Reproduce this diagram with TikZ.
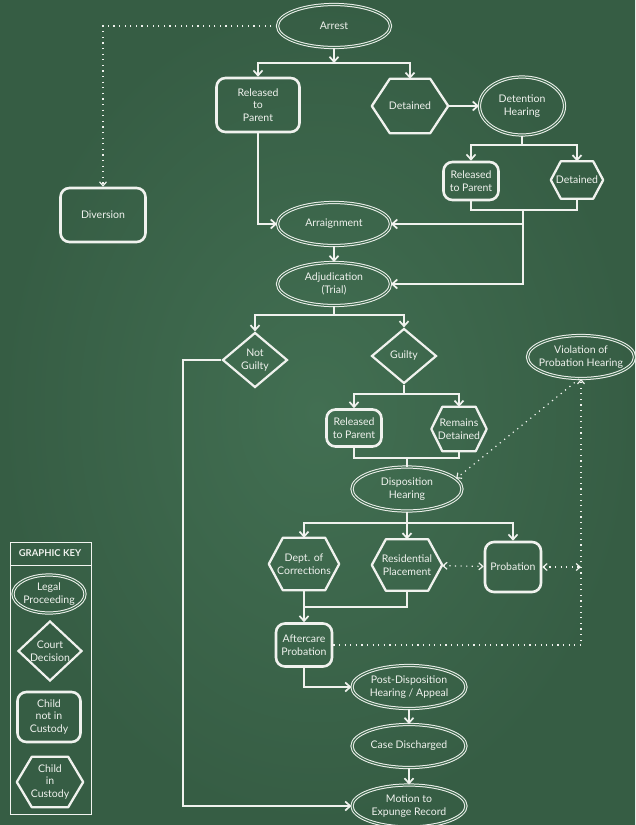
\documentclass[tikz,border=0pt]{standalone}
\usepackage{fontspec}
\setmainfont{Lato}
\usetikzlibrary{shapes.geometric}
\usetikzlibrary{arrows.meta}
\definecolor{board}{RGB}{63,107,79}
\definecolor{boardlight}{RGB}{66,111,82}
\definecolor{boarddark}{RGB}{54,93,68}
\definecolor{chalk}{RGB}{240,242,238}
\tikzset{>={Straight Barb[length=5pt, width=9pt]}}
\tikzset{wire/.style={chalk, line width=1.7pt}}
\tikzset{dotline/.style={chalk, line width=1.2pt, dash pattern=on 1.2pt off 4.4pt,
  >={Straight Barb[length=4pt, width=7pt]}}}
\tikzset{proc/.style={ellipse, draw=chalk, line width=1pt, double=board, double distance=1.2pt,
  inner sep=0pt, inner xsep=-10pt, minimum width=113pt, minimum height=43pt, align=center, text=chalk}}
\tikzset{cond/.style={diamond, draw=chalk, line width=2.2pt, inner sep=0pt,
  minimum width=65pt, minimum height=55pt, align=center, text=chalk}}
\tikzset{free/.style={rectangle, rounded corners=9pt, draw=chalk, line width=2.6pt, inner sep=0pt,
  minimum width=83pt, minimum height=54pt, align=center, text=chalk}}
\tikzset{held/.style={rectangle, inner sep=0pt, minimum width=76pt, minimum height=54pt,
  align=center, text=chalk}}
\newcommand*{\hexa}[2][14pt]{\draw[chalk, line width=2.3pt, line join=round](#2.west)
  --([xshift=#1]#2.north west)--([xshift=-#1]#2.north east)--(#2.east)
  --([xshift=-#1]#2.south east)--([xshift=#1]#2.south west)--cycle;}

\begin{document}
\begin{tikzpicture}[x=1pt, y=-1pt, font=\fontsize{10.5}{12.5}\selectfont]
    \shade[inner color=boardlight, outer color=boarddark](0, 0)rectangle(635, 825);
    \useasboundingbox(0, 0)rectangle(635, 825);
    % stages
    \node[proc](arrest)at(334, 26){Arrest};
    \node[free](rel1)at(258, 105){Released\\to\\Parent};
    \node[held](det1)at(410, 106){Detained};
    \node[proc, minimum width=85pt, minimum height=58pt](dh)at(522, 106){Detention\\Hearing};
    \node[free, minimum width=55pt, minimum height=38pt](rel2)at(471, 181){Released\\to Parent};
    \node[held, minimum width=52pt, minimum height=37pt](det2)at(577, 180){Detained};
    \node[free, minimum width=85pt](div)at(103, 215){Diversion};
    \node[proc](arr)at(334, 224){Arraignment};
    \node[proc](adj)at(334, 284){Adjudication\\(Trial)};
    \node[cond](ng)at(255, 360){Not\\Guilty};
    \node[cond](gu)at(404, 356){Guilty};
    \node[proc, minimum width=107pt](viol)at(581, 357){Violation of\\Probation Hearing};
    \node[free, minimum width=55pt, minimum height=37pt](rel3)at(354, 428){Released\\to Parent};
    \node[held, minimum width=55pt, minimum height=44pt](rem)at(459, 429){Remains\\Detained};
    \node[proc, minimum width=110pt, minimum height=44pt](disp)at(407, 489){Disposition\\Hearing};
    \node[held, minimum width=70pt, minimum height=52pt](doc)at(304, 564){Dept. of\\Corrections};
    \node[held, minimum width=70pt, minimum height=51pt](res)at(407, 565){Residential\\Placement};
    \node[free, minimum width=56pt, minimum height=50pt](prob)at(513, 567){Probation};
    \node[free, minimum width=56pt, minimum height=43pt](care)at(304, 645){Aftercare\\Probation};
    \node[proc, minimum width=114pt](post)at(409, 687){Post-Disposition\\Hearing / Appeal};
    \node[proc, minimum width=114pt](dis)at(409, 746){Case Discharged};
    \node[proc, minimum width=114pt, minimum height=42pt](mot)at(409, 806){Motion to\\Expunge Record};
    \hexa[18pt]{det1}
    \hexa[10pt]{det2}
    \hexa[11pt]{rem}
    \hexa[14pt]{doc}
    \hexa[14pt]{res}
    % junctions
    \coordinate(a1)at(334, 63);
    \coordinate(a2)at(522, 145);
    \coordinate(a3)at(523, 210);
    \coordinate(a4)at(334, 315);
    \coordinate(a5)at(183, 360);
    \coordinate(a6)at(404, 394);
    \coordinate(a7)at(407, 458);
    \coordinate(a8)at(407, 523);
    \coordinate(a9)at(304, 607);
    % flow
    \draw[wire, ->](arrest)--(a1);
    \draw[wire, ->](a1)-|(rel1);
    \draw[wire, ->](a1)-|(det1);
    \draw[wire, ->](det1)--(dh);
    \draw[wire](dh)--(a2);
    \draw[wire, ->](a2)-|(rel2);
    \draw[wire, ->](a2)-|(det2);
    \draw[wire](rel2)|-(a3);
    \draw[wire](det2)|-(a3);
    \draw[wire, ->](a3)|-(arr);
    \draw[wire, ->](a3)|-(adj);
    \draw[wire, ->](rel1)|-(arr);
    \draw[wire, ->](arr)--(adj);
    \draw[wire](adj)--(a4);
    \draw[wire, ->](a4)-|(ng);
    \draw[wire, ->](a4)-|(gu);
    \draw[wire, ->](ng)--(a5)|-(mot);
    \draw[wire](gu)--(a6);
    \draw[wire, ->](a6)-|(rel3);
    \draw[wire, ->](a6)-|(rem);
    \draw[wire](rel3)|-(a7);
    \draw[wire](rem)|-(a7);
    \draw[wire](a7)--(disp);
    \draw[wire](disp)--(a8);
    \draw[wire, ->](a8)-|(doc);
    \draw[wire, ->](a8)--(res);
    \draw[wire, ->](a8)-|(prob);
    \draw[wire](res)|-(a9);
    \draw[wire, ->](doc)--(care);
    \draw[wire, ->](care)|-(post);
    \draw[wire, ->](post)--(dis);
    \draw[wire, ->](dis)--(mot);
    % dotted links
    \draw[dotline, ->](arrest)-|(div);
    \draw[dotline, ->](viol.265)--(disp.12);
    \draw[dotline, ->](care)-|(viol);
    \draw[dotline, <->](res)--(prob);
    \draw[dotline, <->](prob)--(prob-|viol);
    % key
    \draw[chalk!85, line width=0.6pt](10, 542)rectangle(91, 814);
    \draw[chalk!85, line width=0.6pt](10, 565)--(91, 565);
    \node[text=chalk, font=\fontsize{9.5}{11}\selectfont\bfseries](key)at(50, 553){GRAPHIC KEY};
    \node[proc, minimum width=72pt, minimum height=38pt](k1)at(49, 594){Legal\\Proceeding};
    \node[cond, minimum width=64pt, minimum height=58pt](k2)at(50, 651){Court\\Decision};
    \node[free, minimum width=63pt, minimum height=50pt](k3)at(49, 717){Child\\not in\\Custody};
    \node[held, minimum width=66pt, minimum height=50pt](k4)at(50, 782){Child\\in\\Custody};
    \hexa[15pt]{k4}
\end{tikzpicture}
\end{document}
